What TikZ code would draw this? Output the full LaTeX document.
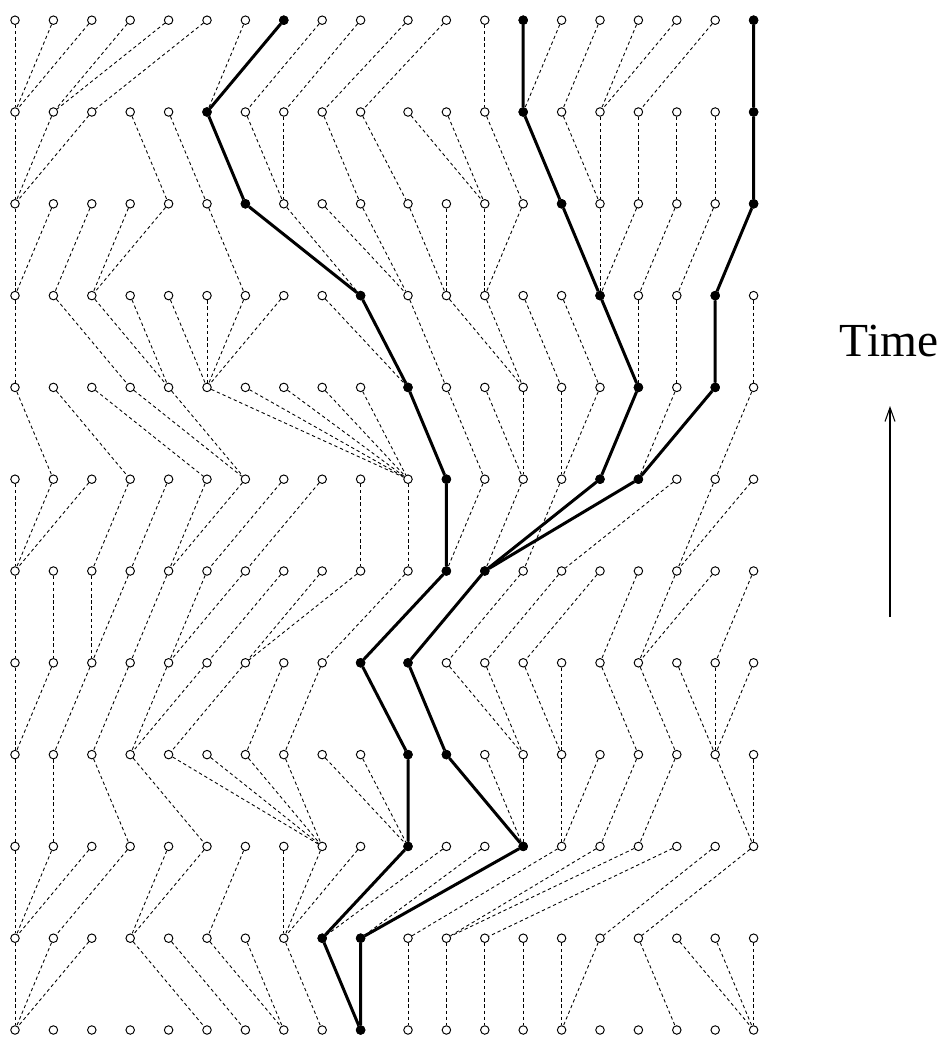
\documentclass[tikz,border=0pt]{standalone}
\usepackage{fontspec}
\setmainfont{Liberation Serif}
\usetikzlibrary{arrows.meta}

\begin{document}
\begin{tikzpicture}[x=.02cm,y=-.02cm,
    indiv/.style={circle,draw,line width=.55pt,inner sep=0pt,minimum size=.17cm,fill=white},
    parent/.style={dash pattern=on 1.9pt off 1.6pt,line width=.5pt},
    lineage/.style={line width=1.7pt},
    clock/.style={line width=.6pt,-{Straight Barb[length=.28cm,width=.2cm]}}]
  \useasboundingbox (0,0) rectangle (945,1040);
  \foreach \r in {0,...,11}
    \foreach \c in {0,...,19}{
      \pgfmathsetmacro\xx{\c<10 ? 15+38.4*\c : 408+38.4*(\c-10)}
      \pgfmathsetmacro\yy{1030-91.8*\r}
      \node[indiv] (n\r-\c) at (\xx,\yy) {};
    }
  \foreach \r/\plist in {
      1/{0,0,0,5,6,7,7,8,9,9,10,11,12,13,14,14,17,19,19,19},
      2/{0,0,0,1,3,3,5,7,7,7,8,8,9,9,10,11,11,12,15,16},
      3/{0,1,3,5,8,8,8,8,10,10,10,13,13,13,14,14,15,16,19,19},
      4/{0,0,1,2,3,3,4,6,7,10,11,13,13,14,14,16,17,18,18,18},
      5/{0,1,2,2,3,4,4,5,6,6,8,9,10,11,12,13,15,16,16,18},
      6/{0,0,0,2,3,4,4,5,6,9,10,11,11,12,13,12,12,14,17,17},
      7/{1,3,5,6,6,10,10,10,10,10,11,12,13,13,14,14,15,16,16,18},
      8/{0,3,4,4,5,5,5,5,10,10,11,13,13,14,15,16,16,17,18,19},
      9/{0,0,1,2,2,6,9,9,10,10,11,11,12,12,15,15,15,16,17,18},
      10/{0,0,0,4,5,6,7,7,9,10,12,12,13,14,15,15,16,17,18,19},
      11/{0,0,0,1,1,2,5,5,6,7,8,9,12,13,13,14,15,15,16,19}}{
    \pgfmathtruncatemacro\rr{\r-1}
    \foreach \p [count=\c from 0] in \plist
      \draw[parent] (n\r-\c) -- (n\rr-\p);
  }
  \draw[lineage] (n11-7) -- (n10-5) -- (n9-6) -- (n8-9) -- (n7-10) -- (n6-11)
    -- (n5-11) -- (n4-9) -- (n3-10) -- (n2-10) -- (n1-8) -- (n0-9);
  \draw[lineage] (n11-13) -- (n10-13) -- (n9-14) -- (n8-15) -- (n7-16) -- (n6-15)
    -- (n5-12) -- (n4-10) -- (n3-11) -- (n2-13) -- (n1-9) -- (n0-9);
  \draw[lineage] (n11-19) -- (n10-19) -- (n9-19) -- (n8-18) -- (n7-18) -- (n6-16)
    -- (n5-12);
  \foreach \a in {11-7,10-5,9-6,8-9,7-10,6-11,5-11,4-9,3-10,2-10,1-8,0-9,
      11-13,10-13,9-14,8-15,7-16,6-15,5-12,4-10,3-11,2-13,1-9,
      11-19,10-19,9-19,8-18,7-18,6-16}
    \fill (n\a) circle[radius=.095cm];
  \node[font=\fontsize{27}{32}\selectfont] (time) at (889,341) {Time};
  \coordinate (tail) at (890,617);
  \coordinate (head) at (890,406);
  \draw[clock] (tail) -- (head);
\end{tikzpicture}
\end{document}
